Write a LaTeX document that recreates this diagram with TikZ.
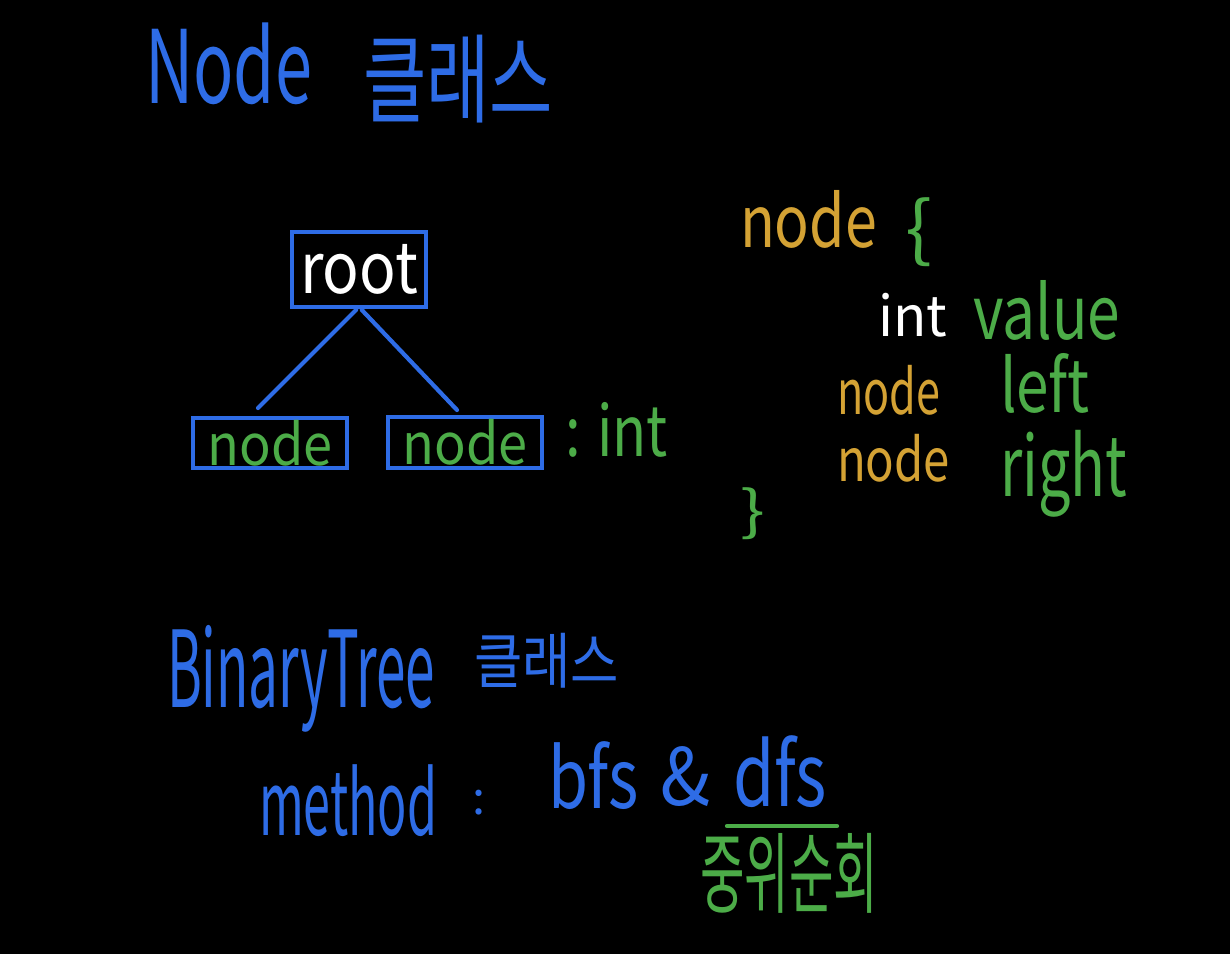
\documentclass[tikz,border=0pt]{standalone}
\usepackage{fontspec}
\usepackage{graphicx}
\setmainfont{Noto Sans CJK KR}
\newlength{\pxu}\setlength{\pxu}{0.02cm}
\newcommand{\hw}[3]{\resizebox*{#1\pxu}{#2\pxu}{#3}}
\definecolor{penblue}{RGB}{46,108,230}
\definecolor{pengreen}{RGB}{76,172,72}
\definecolor{pengold}{RGB}{212,162,52}
\begin{document}
\begin{tikzpicture}[x=0.02cm, y=-0.02cm,
  txt/.style={inner sep=0pt, outer sep=0pt, anchor=south west},
  box/.style={draw=penblue, line width=2.4pt, inner sep=0pt, outer sep=0pt},
  edge/.style={draw=penblue, line width=2.4pt, line cap=round},
  uline/.style={draw=pengreen, line width=2.4pt, line cap=round}]
\useasboundingbox[fill=black] (0,0) rectangle (1230,954);
% title
\node[txt, text=penblue] (t1) at (145,105) {\hw{167}{82}{Node}};
\node[txt, text=penblue] (t1k) at (363,123) {\hw{190}{88}{클래스}};
% tree
\node[box, minimum width=2.68cm, minimum height=1.5cm, text=white] (root) at (359,269.5) {\hw{118}{50}{root}};
\node[box, minimum width=3.08cm, minimum height=1cm, text=pengreen] (nl) at (270,443) {\hw{125}{46}{node}};
\node[box, minimum width=3.08cm, minimum height=1.02cm, text=pengreen] (nr) at (465,442.5) {\hw{125}{46}{node}};
\node[txt, text=pengreen] (itype) at (565,457) {\hw{103}{55}{: int}};
\coordinate (lt) at (258,408);
\coordinate (rt) at (457,410);
\draw[edge, shorten <=0.08cm] (root.south) -- (lt);
\draw[edge, shorten <=0.08cm] (root.south) -- (rt);
% class code
\node[txt, text=pengold] (c1) at (740,248) {\hw{137}{58}{node}};
\node[txt, text=pengreen] (c1b) at (905,267) {\hw{27}{69}{\{}};
\node[txt, text=white] (c2a) at (878,337) {\hw{69}{44}{int}};
\node[txt, text=pengreen] (c2b) at (973,340) {\hw{147}{60}{value}};
\node[txt, text=pengold] (c3a) at (837,415) {\hw{103}{50}{node}};
\node[txt, text=pengreen] (c3b) at (1000,413) {\hw{90}{60}{left}};
\node[txt, text=pengold] (c4a) at (837,482) {\hw{113}{48}{node}};
\node[txt, text=pengreen] (c4b) at (1000,517) {\hw{127}{87}{right}};
\node[txt, text=pengreen] (c5) at (740,540) {\hw{25}{52}{\}}};
% binary tree
\node[txt, text=penblue] (bt) at (167,732) {\hw{268}{107}{BinaryTree}};
\node[txt, text=penblue] (btk) at (474,688) {\hw{145}{55}{클래스}};
\node[txt, text=penblue] (m1) at (259,837) {\hw{178}{72}{method}};
\node[txt, text=penblue] (m2) at (472,815) {\hw{13}{25}{:}};
\node[txt, text=penblue] (m3) at (548,810) {\hw{91}{68}{bfs}};
\node[txt, text=penblue] (m4) at (660,807) {\hw{50}{60}{\&}};
\node[txt, text=penblue] (m5) at (733,808) {\hw{94}{72}{dfs}};
\coordinate (u1) at (727,826);
\coordinate (u2) at (837,826);
\draw[uline] (u1) -- (u2);
\node[txt, text=pengreen] (m6) at (700,913) {\hw{178}{80}{중위순회}};
\end{tikzpicture}
\end{document}
